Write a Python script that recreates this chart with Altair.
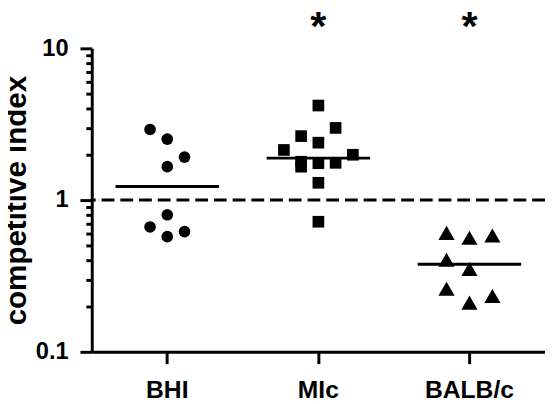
import altair as alt
import pandas as pd
import numpy as np

groups = ["BHI", "MIc", "BALB/c"]
shapes = ["circle", "square", "triangle-up"]
sizes = [140, 140, 270]

bhi_values = [2.92, 2.52, 1.92, 1.66, 0.80, 0.665, 0.62, 0.575]
bhi_slots = [-1, 0, 1, 0, 0, -1, 1, 0]
mic_values = [4.2, 2.99, 2.64, 2.39, 2.14, 1.99, 1.79, 1.66, 1.75, 1.76, 1.30, 0.72]
mic_slots = [0, 1, -1, 0, -2, 2, -1, -1, 0, 1, 0, 0]
balb_values = [0.608, 0.564, 0.584, 0.404, 0.351, 0.26, 0.233, 0.211]
balb_slots = [-1.33, 0, 1.33, -1.33, 0, -1.33, 1.33, 0]

y_tick_values = [0.1, 0.2, 0.3, 0.4, 0.5, 0.6, 0.7, 0.8, 0.9,
                 1, 2, 3, 4, 5, 6, 7, 8, 9, 10]
y_major = [0.1, 1, 10]
significant = ["MIc", "BALB/c"]
reference_value = 1

rows = []
for g, vals, slots in [("BHI", bhi_values, bhi_slots),
                       ("MIc", mic_values, mic_slots),
                       ("BALB/c", balb_values, balb_slots)]:
    for v, s in zip(vals, slots):
        rows.append({"group": g, "value": v, "slot": s})
points_df = pd.DataFrame(rows)

medians_df = pd.DataFrame({
    "group": groups,
    "median": [float(np.median(bhi_values)), float(np.median(mic_values)), float(np.median(balb_values))],
})
ref_df = pd.DataFrame({"value": [reference_value]})
star_df = pd.DataFrame({"group": significant, "label": ["*"] * len(significant), "y": [10] * len(significant)})

FONT = "Liberation Sans"

major_test = " || ".join([f"datum.value == {v}" for v in y_major])

x_axis = alt.Axis(title=None, labelAngle=0, labelFontSize=25, labelFontWeight="bold",
                  labelFont=FONT, labelColor="black", tickSize=12, labelPadding=14)
y_axis = alt.Axis(
    values=y_tick_values,
    format="~g",
    labelExpr=f"({major_test}) ? datum.label : ''",
    tickSize={"condition": {"test": major_test, "value": 12}, "value": 6},
    labelFontSize=24, labelFontWeight="bold", labelFont=FONT, labelColor="black",
    labelPadding=12,
    title="competitive index", titleFontSize=30, titleFontWeight="bold",
    titleFont=FONT, titleColor="black", titlePadding=4,
)
x_scale = alt.Scale(type="band", domain=groups, paddingInner=0, paddingOuter=0)
y_scale = alt.Scale(type="log", domain=[0.1, 10], nice=False)


def X():
    return alt.X("group:N", sort=groups, scale=x_scale, axis=x_axis)


points = alt.Chart(points_df).mark_point(filled=True, opacity=1, color="black", strokeWidth=0).encode(
    x=X(),
    xOffset=alt.XOffset("slot:Q", scale=alt.Scale(domain=[-4.38, 4.38])),
    y=alt.Y("value:Q", scale=y_scale, axis=y_axis),
    shape=alt.Shape("group:N", scale=alt.Scale(domain=groups, range=shapes), legend=None),
    size=alt.Size("group:N", scale=alt.Scale(type="ordinal", domain=groups, range=sizes), legend=None),
)

medians = alt.Chart(medians_df).mark_tick(color="black", opacity=1, size=105, thickness=3).encode(
    x=X(),
    y=alt.Y("median:Q", scale=y_scale, axis=y_axis),
)

ref = alt.Chart(ref_df).mark_rule(color="black", strokeWidth=3, strokeDash=[13, 6]).encode(
    y=alt.Y("value:Q", scale=y_scale, axis=y_axis),
)

stars = alt.Chart(star_df).mark_text(fontSize=42, fontWeight="bold", font=FONT, color="black",
                                     baseline="alphabetic", dy=-8).encode(
    x=X(),
    y=alt.Y("y:Q", scale=y_scale, axis=y_axis),
    text="label:N",
)

chart = alt.layer(ref, points, medians, stars).properties(
    width=460, height=308,
    autosize=alt.AutoSizeParams(type="none"),
    padding={"left": 85, "top": 38, "right": 0, "bottom": 50},
).configure_view(stroke=None).configure_axis(
    grid=False, domainColor="black", domainWidth=3, tickColor="black", tickWidth=3,
)

chart.save("out.html", embed_options={"renderer": "svg", "actions": False})
